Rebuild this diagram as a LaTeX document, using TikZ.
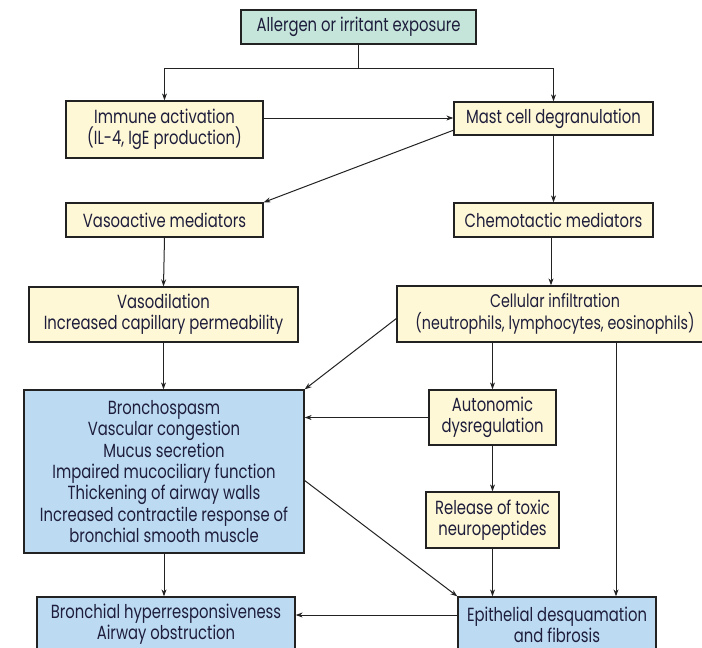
\documentclass[tikz,border=0pt]{standalone}
\usepackage{fontspec}
\setmainfont[FakeStretch=0.78]{Poppins}
\usetikzlibrary{arrows.meta}
\definecolor{cteal}{HTML}{C5E5DA}
\definecolor{cyel}{HTML}{FFF8D6}
\definecolor{cblue}{HTML}{BCDBF3}
\definecolor{ctext}{HTML}{1E1E3C}
\definecolor{cline}{HTML}{222222}
\begin{document}
\begin{tikzpicture}[x=1pt,y=-1pt,
  box/.style={draw=cline, line width=1.3pt, fill=cyel, text=ctext, align=center, inner sep=0pt,
    font=\fontsize{19}{21.3}\selectfont},
  tealbox/.style={box, fill=cteal},
  bluebox/.style={box, fill=cblue},
  arr/.style={-{Stealth[length=7pt,width=5pt]}, line width=1pt, draw=cline},
  ln/.style={line width=1pt, draw=cline}]
\clip (0,0) rectangle (702,648);
\useasboundingbox (0,0) rectangle (702,648);

\node[tealbox, minimum width=235pt, minimum height=34pt] (allergen) at (358.5,27) {Allergen or irritant exposure};
\node[box, minimum width=197pt, minimum height=57pt] (immune) at (164.5,129.5) {Immune activation\\(IL-4, IgE production)};
\node[box, minimum width=199pt, minimum height=33pt] (mast) at (553.5,118.5) {Mast cell degranulation};
\node[box, minimum width=197pt, minimum height=34pt] (vaso) at (164.5,220) {Vasoactive mediators};
\node[box, minimum width=199pt, minimum height=34pt] (chemo) at (553.5,220) {Chemotactic mediators};
\node[box, minimum width=269pt, minimum height=55pt] (vasod) at (163.5,314.5) {Vasodilation\\Increased capillary permeability};
\node[box, minimum width=316pt, minimum height=56pt, font=\fontsize{18.3}{21.3}\selectfont] (cell) at (555,314) {Cellular infiltration\\(neutrophils, lymphocytes, eosinophils)};
\node[bluebox, minimum width=280pt, minimum height=163pt] (broncho) at (164,471.5) {Bronchospasm\\Vascular congestion\\Mucus secretion\\Impaired mucociliary function\\Thickening of airway walls\\Increased contractile response of\\bronchial smooth muscle};
\node[box, minimum width=127pt, minimum height=55pt] (auto) at (492.5,417.5) {Autonomic\\dysregulation};
\node[box, minimum width=133pt, minimum height=56pt] (release) at (492.5,520) {Release of toxic\\neuropeptides};
\node[bluebox, minimum width=258pt, minimum height=55pt] (bhr) at (166,624.5) {Bronchial hyperresponsiveness\\Airway obstruction};
\node[bluebox, minimum width=198pt, minimum height=55pt] (epi) at (557,624.5) {Epithelial desquamation\\and fibrosis};

\coordinate (split) at (358.5,68);
\coordinate (mastout) at (454,130);
\coordinate (cellout) at (397,318);
\coordinate (bronout) at (304,480);
\coordinate (celldrop) at (616,342);

\draw[ln] (allergen.south) -- (split);
\draw[arr] (split) -| (immune.north);
\draw[arr] (split) -| (mast.north);
\draw[arr] (immune.east |- 0,118) -- (mast.west |- 0,118);
\draw[arr] (mastout) -- (vaso.north east);
\draw[arr] (mast.south) -- (chemo.north);
\draw[arr] (vaso.south) -- (vasod.north);
\draw[arr] (chemo.south -| 551,0) -- (cell.north -| 551,0);
\draw[arr] (vasod.south) -- (broncho.north -| vasod.south);
\draw[arr] (cellout) -- (broncho.north east);
\draw[arr] (cell.south -| auto.north) -- (auto.north);
\draw[arr] (auto.west) -- (broncho.east |- auto.west);
\draw[arr] (auto.south) -- (release.north);
\draw[arr] (release.south) -- (epi.north -| release.south);
\draw[arr] (celldrop) -- (epi.north -| celldrop);
\draw[arr] (bronout) -- (epi.north west);
\draw[arr] (broncho.south) -- (bhr.north -| broncho.south);
\draw[arr] (epi.west |- 0,615) -- (bhr.east |- 0,615);
\end{tikzpicture}
\end{document}
